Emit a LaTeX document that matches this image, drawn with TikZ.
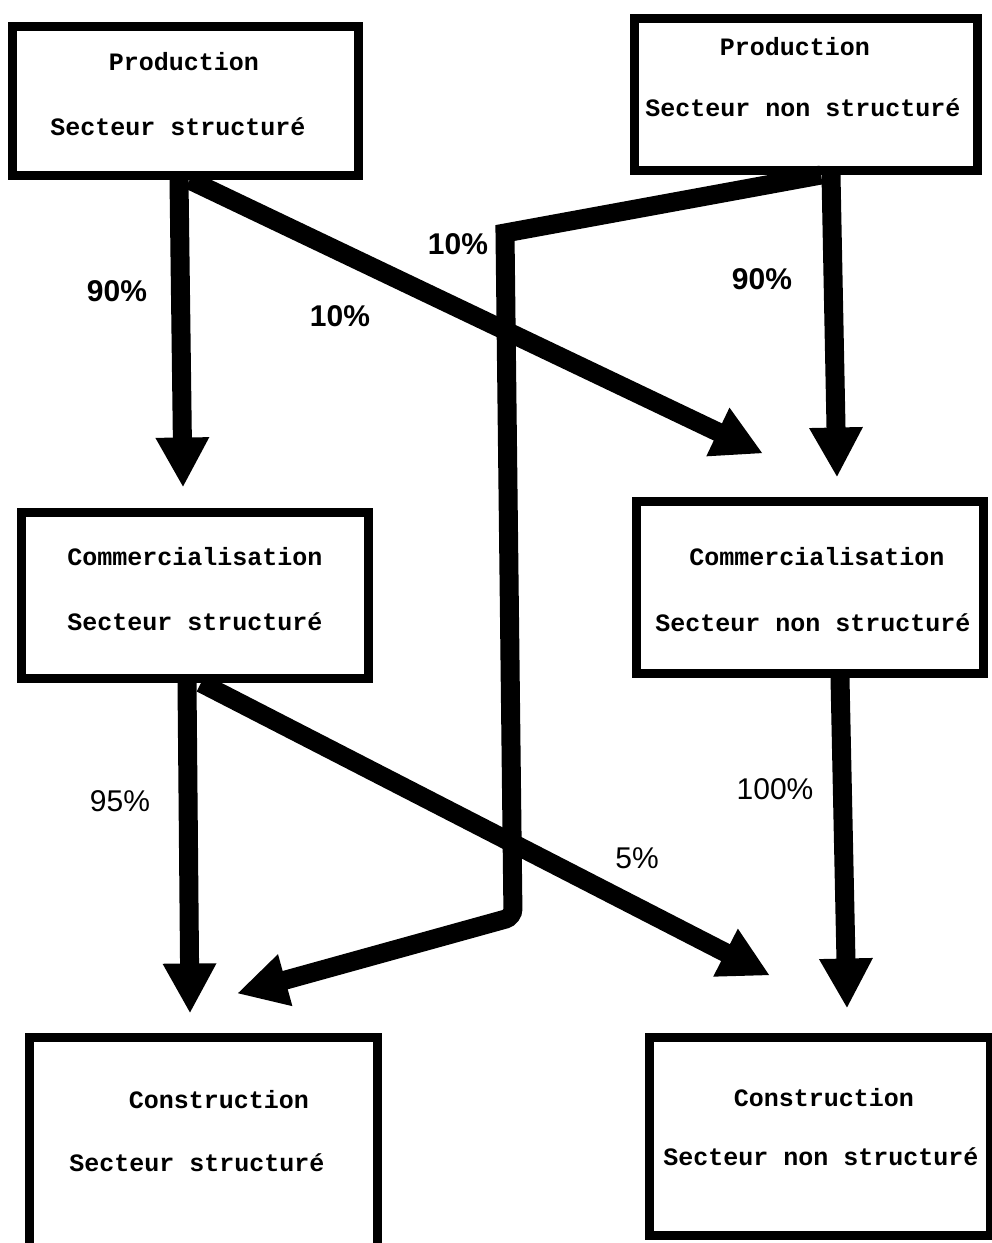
\documentclass[tikz,border=0pt]{standalone}
\usepackage{fontspec}
\setmainfont{Liberation Sans}
\newfontfamily\boxfont{Liberation Mono}
\usetikzlibrary{arrows.meta}
\begin{document}
\begin{tikzpicture}[x=1pt,y=-1pt,
  box/.style={draw=black, line width=9pt, inner sep=0pt},
  btxt/.style={font=\boxfont\bfseries\fontsize{25}{30}\selectfont, anchor=base, inner sep=0pt},
  pctb/.style={font=\bfseries\fontsize{30}{36}\selectfont, anchor=base, inner sep=0pt},
  pctr/.style={font=\fontsize{30}{36}\selectfont, anchor=base, inner sep=0pt},
  arr/.style={draw=black, line width=19pt, -{Triangle[length=50pt,width=50pt]}}
]
\path[use as bounding box] (0,0) rectangle (992,1243);
\clip (0,0) rectangle (992,1243);

% boxes
\node[box, minimum width=346pt, minimum height=149pt] (ps) at (185.5,101) {};
\node[box, minimum width=343pt, minimum height=152pt] (pn) at (806,94.5) {};
\node[box, minimum width=347pt, minimum height=166pt] (cs) at (195,595.5) {};
\node[box, minimum width=347pt, minimum height=172pt] (cn) at (810,587.5) {};
\node[box, minimum width=348pt, minimum height=222.5pt] (bs) at (203.5,1148.75) {};
\node[box, minimum width=341pt, minimum height=198pt] (bn) at (820,1136.5) {};

% box texts
\node[btxt] (ps1) at (184,70) {Production};
\node[btxt] (ps2) at (178,135) {Secteur structuré};
\node[btxt] (pn1) at (795,55) {Production};
\node[btxt] (pn2) at (803,116) {Secteur non structuré};
\node[btxt] (cs1) at (195,565) {Commercialisation};
\node[btxt] (cs2) at (195,630) {Secteur structuré};
\node[btxt] (cn1) at (817,565) {Commercialisation};
\node[btxt] (cn2) at (813,631) {Secteur non structuré};
\node[btxt] (bs1) at (219,1108) {Construction};
\node[btxt] (bs2) at (197,1171) {Secteur structuré};
\node[btxt] (bn1) at (824,1106) {Construction};
\node[btxt] (bn2) at (821,1165) {Secteur non structuré};

% bends of the long connector
\coordinate (b1) at (505,233);
\coordinate (b2) at (513,917);

% connectors
\draw[arr] ([xshift=-6.5pt]ps.south) -- ([shift={(-12pt,20.5pt)}]cs.north);
\draw[arr] ([xshift=4pt]ps.south) -- ([shift={(-47pt,43.5pt)}]cn.north);
\draw[arr] ([xshift=25pt]pn.south) -- ([shift={(27pt,19.5pt)}]cn.north);
\draw[arr] ([xshift=15pt]pn.south) -- (b1) [rounded corners=8pt] -- (b2) -- ([shift={(33.5pt,39.5pt)}]bs.north);
\draw[arr] ([xshift=-8pt]cs.south) -- ([shift={(-13.5pt,19.5pt)}]bs.north);
\draw[arr] ([xshift=6pt]cs.south) -- ([shift={(-50pt,57.5pt)}]bn.north);
\draw[arr] ([xshift=30pt]cn.south) -- ([shift={(27pt,24.5pt)}]bn.north);

% labels
\node[pctb] (l1) at (117,301) {90\%};
\node[pctb] (l2) at (340,326) {10\%};
\node[pctb] (l3) at (458,254) {10\%};
\node[pctb] (l4) at (762,289) {90\%};
\node[pctr] (l5) at (120,811) {95\%};
\node[pctr] (l6) at (775,799) {100\%};
\node[pctr] (l7) at (637,868) {5\%};
\end{tikzpicture}
\end{document}
